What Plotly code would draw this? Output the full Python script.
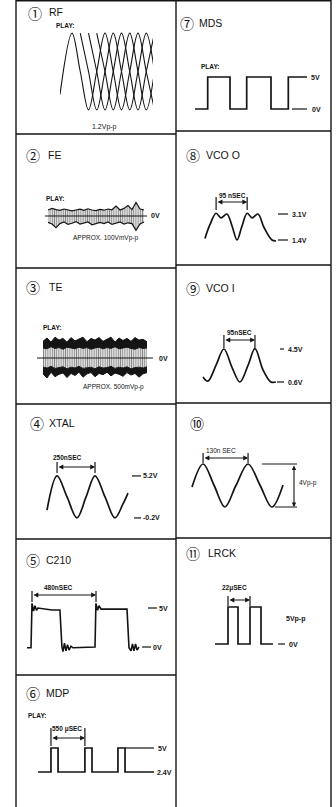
import plotly.graph_objects as go

W, H = 336, 807
INK = "#141414"
SANS = "Liberation Sans, Arial, sans-serif"
CIRC = "Noto Sans CJK JP, DejaVu Sans, sans-serif"

# ======================= DATA =======================
# (1) RF eye pattern, volts (1.2 Vp-p)
RF_CREST_T = [12, 20.25, 28.5, 36.75]      # first crest of each overlaid trace
RF_QUARTER_V = [0.6, 0.0, -0.6, 0.0]       # crest, zero, trough, zero
RF_QUARTER_T = 8.25
RF_LEAD_T = [0, 12]
RF_LEAD_V = [-0.36, 0.6]
RF_END_T = 100

# (2) FE, mV (approx 100 mVp-p) - envelope samples
FE_T = list(range(25))
FE_TOP = [30, 38, 32, 28, 35, 30, 26, 30, 34, 28, 36, 30, 27, 33, 29, 35, 31, 50, 30, 38, 52, 32, 68, 35, 30]
FE_BOT = [-32, -40, -58, -38, -30, -42, -36, -28, -40, -34, -30, -44, -36, -32, -38, -30, -42, -35, -30, -40, -34, -38, -72, -40, -30]
FE_ZERO_T = [-0.75, 24.75]

# (3) TE, mV (approx 500 mVp-p) - envelope samples
TE_T = list(range(27))
TE_TOP_OUT = [200, 240, 190, 250, 215, 235, 190, 245, 205, 225, 250, 195, 235, 215, 245, 200, 230, 250, 190, 240, 210, 235, 200, 245, 215, 225, 195]
TE_TOP_IN = [120, 110, 135, 115, 125, 105, 130, 120, 110, 130, 115, 125, 105, 120, 130, 110, 125, 115, 135, 110, 120, 130, 115, 105, 125, 115, 120]
TE_BOT_IN = [-110, -120, -100, -125, -115, -105, -130, -110, -120, -100, -125, -115, -110, -130, -105, -120, -115, -100, -125, -110, -120, -105, -130, -115, -110, -120, -105]
TE_BOT_OUT = [-190, -240, -170, -225, -195, -180, -235, -185, -210, -170, -230, -190, -175, -225, -185, -200, -170, -215, -180, -195, -220, -175, -205, -185, -230, -190, -175]
TE_ZERO_T = [-1.5, 27.5]

# (4) XTAL, ns / V
XTAL_T = [0, 66, 132, 197, 257, 316, 382, 447, 500, 533]
XTAL_V = [0.8, 5.2, 2.5, -0.2, 2.5, 5.2, 2.5, -0.2, 1.6, 3.0]
XTAL_PERIOD = (66, 316)           # 250 nSEC

# (5) C210, ns / V
C210_T = [0, 30, 37.5, 49, 60, 71, 82, 135, 187, 247, 262, 270, 281, 292, 304, 315, 330, 345,
          510, 517, 529, 540, 555, 622, 750, 765, 780, 791, 802, 814, 825, 840]
C210_V = [-0.1, -0.1, 5.6, 4.6, 5.3, 4.7, 5.0, 4.9, 4.75, 4.75, 0.0, -0.6, 0.5, -0.5, 0.3, -0.4, 0.1, -0.1,
          0.0, 5.6, 4.7, 5.3, 4.85, 4.85, 4.85, -0.1, -0.5, 0.4, -0.5, 0.4, -0.4, 0.0]
C210_PERIOD = (37.5, 517.5)       # 480 nSEC

# (6) MDP, usec / V
MDP_T = [0, 210, 210, 325, 325, 760, 760, 875, 875, 1295, 1295, 1410, 1410, 1880]
MDP_V = [2.4, 2.4, 5, 5, 2.4, 2.4, 5, 5, 2.4, 2.4, 5, 5, 2.4, 2.4]
MDP_PERIOD = (210, 760)           # 550 usec
MDP_REF5_T = [1410, 1880]

# (7) MDS, arbitrary time / V
MDS_T = [0, 12.7, 12.7, 35, 35, 51.7, 51.7, 76, 76, 93.3, 93.3, 112]
MDS_V = [0, 0, 5, 5, 0, 0, 5, 5, 0, 0, 5, 5]
MDS_REF0_T = [97, 112]

# (8) VCO O, ns / V
VCOO_T = [0, 15, 34, 49, 67, 83, 98, 113, 129, 144, 162, 181, 205, 217]
VCOO_V = [1.5, 2.4, 3.15, 2.85, 3.1, 2.3, 1.4, 2.3, 3.15, 2.85, 3.1, 2.2, 1.4, 1.35]
VCOO_PERIOD = (34, 129)           # 95 nSEC

# (9) VCO I, ns / V
VCOI_T = [0, 15, 40, 64, 89, 113, 138, 159, 184, 208, 223]
VCOI_V = [1.2, 0.7, 2.6, 4.5, 2.3, 0.6, 2.6, 4.55, 2.0, 0.6, 0.6]
VCOI_PERIOD = (64, 159)           # 95 nSEC

# (10) sine, ns / V (4 Vp-p)
S10_T = [0, 32, 64, 95, 127, 162, 197, 231, 263]
S10_V = [-0.15, 2, 0, -2, 0, 2, 0, -2, 0.05]
S10_PERIOD = (32, 162)            # 130 nSEC

# (11) LRCK, usec / V
LRCK_T = [0, 13, 13, 23, 23, 35, 35, 46, 46, 58]
LRCK_V = [0, 0, 5, 5, 0, 0, 5, 5, 0, 0]
LRCK_PERIOD = (13, 35)            # 22 usec

# ======================= FIGURE =======================
fig = go.Figure()
_n = [0]


class Cell:
    """One panel: an invisible axis pair placed over a pixel box."""

    def __init__(self, box, xo, sx, yo, sy):
        _n[0] += 1
        n = _n[0]
        self.sfx = "" if n == 1 else str(n)
        self.xref = "x" + self.sfx
        self.yref = "y" + self.sfx
        x0, y0, x1, y1 = box
        self.xo, self.sx, self.yo, self.sy = xo, sx, yo, sy
        fig.update_layout(**{
            "xaxis" + self.sfx: dict(domain=[x0 / W, x1 / W], range=[(x0 - xo) / sx, (x1 - xo) / sx],
                                     visible=False, fixedrange=True, anchor=self.yref),
            "yaxis" + self.sfx: dict(domain=[1 - y1 / H, 1 - y0 / H], range=[(yo - y1) / sy, (yo - y0) / sy],
                                     visible=False, fixedrange=True, anchor=self.xref),
        })

    def X(self, px):
        return (px - self.xo) / self.sx

    def Y(self, py):
        return (self.yo - py) / self.sy

    def line(self, t, v, width=1.6, shape="linear", fill=None, fillcolor=None, pattern=None):
        kw = dict(x=t, y=v, xaxis=self.xref, yaxis=self.yref, mode="lines",
                  line=dict(color=INK, width=width, shape=shape, smoothing=1.0),
                  hoverinfo="skip", showlegend=False)
        if fill:
            kw["fill"] = fill
            kw["fillcolor"] = fillcolor
        if pattern:
            kw["fillpattern"] = pattern
        fig.add_trace(go.Scatter(**kw))

    def label(self, text, px, v, size=7.5, anchor="left"):
        fig.add_annotation(text=text, x=self.X(px), y=v, xref=self.xref, yref=self.yref,
                           xanchor=anchor, yanchor="middle", showarrow=False,
                           font=dict(family=SANS, size=size, color=INK))

    def dash(self, px0, px1, v, width=1.2):
        fig.add_shape(type="line", xref=self.xref, yref=self.yref, x0=self.X(px0), x1=self.X(px1),
                      y0=v, y1=v, line=dict(color=INK, width=width))

    def bracket(self, t1, t2, py, ptop, pbot):
        yb = self.Y(py)
        fig.add_annotation(x=t2, y=yb, ax=t1, ay=yb, xref=self.xref, yref=self.yref,
                           axref=self.xref, ayref=self.yref, text="", showarrow=True,
                           arrowhead=2, arrowside="end+start", arrowsize=0.8, arrowwidth=1.2,
                           arrowcolor=INK, standoff=0, startstandoff=0)
        for t in (t1, t2):
            fig.add_shape(type="line", xref=self.xref, yref=self.yref, x0=t, x1=t,
                          y0=self.Y(ptop), y1=self.Y(pbot), line=dict(color=INK, width=1.2))


def txt(text, px, py, size=7.5, anchor="left", family=SANS):
    fig.add_annotation(text=text, x=px / W, y=1 - py / H, xref="paper", yref="paper",
                       xanchor=anchor, yanchor="middle", showarrow=False,
                       font=dict(family=family, size=size, color=INK))


def title(num, name, cx, cy, nx):
    txt(num, cx, cy, size=14, anchor="center", family=CIRC)
    if name:
        txt(name, nx, cy - 0.5, size=10.5)


HATCH = dict(shape="|", size=2.2, solidity=0.55, fgcolor=INK, bgcolor="white")

# ---------- (1) RF ----------
rf = Cell((60, 28, 153, 115), xo=60, sx=1.0, yo=71.5, sy=64.0)
for k, c in enumerate(RF_CREST_T):
    ts, vs = [], []
    if k == 0:
        ts += RF_LEAD_T[:-1]
        vs += RF_LEAD_V[:-1]
    i = 0
    while c + i * RF_QUARTER_T <= RF_END_T:
        ts.append(c + i * RF_QUARTER_T)
        vs.append(RF_QUARTER_V[i % 4])
        i += 1
    rf.line(ts, vs, width=1.1, shape="spline")
title("①", "RF", 35, 13, 47)
txt("<b>PLAY:</b>", 54, 25, size=6.5)
txt("1.2Vp-p", 104, 127, size=7, anchor="center")

# ---------- (7) MDS ----------
mds = Cell((176, 0, 331, 131), xo=195, sx=1.0, yo=109, sy=6.4)
mds.line(MDS_T, MDS_V, width=1.7)
mds.dash(MDS_REF0_T[0] + 195, MDS_REF0_T[1] + 195, 0)
mds.label("<b>5V</b>", 309, 5, size=7)
mds.label("<b>0V</b>", 310, 0, size=7)
title("⑦", "MDS", 187, 23, 197)
txt("<b>PLAY:</b>", 199, 67, size=6.5)

# ---------- (2) FE ----------
fe = Cell((16, 134, 176, 268), xo=48, sx=4.0, yo=216, sy=0.2)
fe.line(FE_T, FE_BOT, width=1.2)
fe.line(FE_T, FE_TOP, width=1.2, fill="tonexty", fillcolor="white", pattern=HATCH)
fe.line(FE_ZERO_T, [0, 0], width=1.2)
fe.label("<b>0V</b>", 149, 0, size=7)
title("②", "FE", 33, 155, 46)
txt("<b>PLAY:</b>", 44, 198, size=6.5)
txt("APPROX. 100VmVp-p", 71, 238, size=6.5)

# ---------- (8) VCO O ----------
vo = Cell((176, 131, 331, 265), xo=205, sx=1 / 3.06, yo=240 + 1.4 * 15.29, sy=15.29)
vo.line(VCOO_T, VCOO_V, width=1.7, shape="spline")
vo.bracket(VCOO_PERIOD[0], VCOO_PERIOD[1], 202, 197, 210)
vo.dash(278, 288, 3.1)
vo.dash(278, 288, 1.4)
vo.label("<b>3.1V</b>", 290, 3.1, size=7)
vo.label("<b>1.4V</b>", 290, 1.4, size=7)
txt("<b>95 nSEC</b>", 232, 195, size=6.5, anchor="center")
title("⑧", "VCO O", 193, 155, 204)

# ---------- (3) TE ----------
te = Cell((16, 268, 176, 404), xo=43, sx=4.0, yo=358, sy=1 / 12)
te.line(TE_T, TE_BOT_OUT, width=1.0)
te.line(TE_T, TE_BOT_IN, width=1.0, fill="tonexty", fillcolor=INK)
te.line(TE_T, TE_TOP_IN, width=1.0, fill="tonexty", fillcolor="white", pattern=HATCH)
te.line(TE_T, TE_TOP_OUT, width=1.0, fill="tonexty", fillcolor=INK)
te.line(TE_ZERO_T, [0, 0], width=1.2)
te.label("<b>0V</b>", 157, 0, size=7)
title("③", "TE", 33, 287, 47)
txt("<b>PLAY:</b>", 41, 327, size=6.5)
txt("APPROX. 500mVp-p", 81, 387, size=6.5)

# ---------- (9) VCO I ----------
vi = Cell((176, 265, 331, 403), xo=203, sx=1 / 3.06, yo=382 + 0.6 * 8.46, sy=8.46)
vi.line(VCOI_T, VCOI_V, width=1.7, shape="spline")
vi.bracket(VCOI_PERIOD[0], VCOI_PERIOD[1], 340, 335, 348)
vi.dash(280, 284, 4.5)
vi.dash(277, 284, 0.6)
vi.label("<b>4.5V</b>", 286, 4.5, size=7)
vi.label("<b>0.6V</b>", 286, 0.6, size=7)
txt("<b>95nSEC</b>", 239, 332, size=6.5, anchor="center")
title("⑨", "VCO I", 193, 288, 204)

# ---------- (4) XTAL ----------
xt = Cell((16, 404, 176, 539), xo=47, sx=1 / 6.58, yo=516.4, sy=7.78)
xt.line(XTAL_T, XTAL_V, width=1.7, shape="spline")
xt.bracket(XTAL_PERIOD[0], XTAL_PERIOD[1], 467, 462, 473)
xt.dash(132, 141, 5.2)
xt.dash(134, 141, -0.2)
xt.label("<b>5.2V</b>", 141, 5.2, size=7)
xt.label("<b>-0.2V</b>", 141, -0.2, size=7)
txt("<b>250nSEC</b>", 67, 457, size=6.5, anchor="center")
title("④", "XTAL", 37, 423, 47)

# ---------- (10) ----------
s10 = Cell((176, 403, 331, 538), xo=192, sx=1 / 2.89, yo=485.5, sy=10.75)
s10.line(S10_T, S10_V, width=1.7, shape="spline")
s10.bracket(S10_PERIOD[0], S10_PERIOD[1], 458, 453, 463)
s10.dash(262, 297, 2, width=1.0)
s10.dash(275, 297, -2, width=1.0)
fig.add_annotation(x=s10.X(294), y=-2, ax=s10.X(294), ay=2, xref=s10.xref, yref=s10.yref,
                   axref=s10.xref, ayref=s10.yref, text="", showarrow=True, arrowhead=2,
                   arrowside="end+start", arrowsize=0.8, arrowwidth=1.1, arrowcolor=INK,
                   standoff=0, startstandoff=0)
txt("4Vp-p", 297, 483, size=6.5)
txt("130n SEC", 221, 450, size=6.5, anchor="center")
title("⑩", "", 197, 423, 0)

# ---------- (5) C210 ----------
c5 = Cell((16, 539, 176, 675), xo=27, sx=1 / 7.5, yo=647, sy=7.8)
c5.line(C210_T, C210_V, width=1.6)
c5.bracket(C210_PERIOD[0], C210_PERIOD[1], 595, 591, 602)
c5.dash(148, 157, 5)
c5.dash(142, 151, 0)
c5.label("<b>5V</b>", 157, 5, size=7)
c5.label("<b>0V</b>", 151, 0, size=7)
txt("<b>480nSEC</b>", 58, 587, size=6.5, anchor="center")
title("⑤", "C210", 33, 560, 44)

# ---------- (11) LRCK ----------
lr = Cell((176, 538, 331, 806), xo=215, sx=1.0, yo=644, sy=7.4)
lr.line(LRCK_T, LRCK_V, width=1.7)
lr.bracket(LRCK_PERIOD[0], LRCK_PERIOD[1], 600, 596, 606)
lr.dash(278, 285, 0)
lr.label("<b>0V</b>", 287, 0, size=7)
txt("<b>5Vp-p</b>", 284, 619, size=7)
txt("<b>22μSEC</b>", 234, 588, size=6.5, anchor="center")
title("⑪", "LRCK", 193, 553, 206)

# ---------- (6) MDP ----------
md = Cell((16, 675, 176, 806), xo=38, sx=1 / 16.2, yo=772 + 2.4 * 9.23, sy=9.23)
md.line(MDP_T, MDP_V, width=1.7)
md.line(MDP_REF5_T, [5, 5], width=1.2)
md.label("<b>5V</b>", 156, 5, size=7)
md.label("<b>2.4V</b>", 155, 2.4, size=7)
md.bracket(MDP_PERIOD[0], MDP_PERIOD[1], 738, 728, 746)
txt("<b>550 μSEC</b>", 67, 729, size=6.5, anchor="center")
title("⑥", "MDP", 33, 693, 44)
txt("<b>PLAY:</b>", 26, 715, size=6.5)

# ---------- panel frame ----------
VLINES = [16, 176, 331]
LEFT_ROWS = [134, 268, 404, 539, 675]
RIGHT_ROWS = [131, 265, 403, 538]
frame = dict(color=INK, width=1.4)
for vx in VLINES:
    fig.add_shape(type="line", xref="paper", yref="paper", x0=vx / W, x1=vx / W, y0=0, y1=1, line=frame)
fig.add_shape(type="line", xref="paper", yref="paper", x0=16 / W, x1=331 / W,
              y0=1 - 0.8 / H, y1=1 - 0.8 / H, line=frame)
for ry in LEFT_ROWS:
    fig.add_shape(type="line", xref="paper", yref="paper", x0=16 / W, x1=176 / W,
                  y0=1 - ry / H, y1=1 - ry / H, line=frame)
for ry in RIGHT_ROWS:
    fig.add_shape(type="line", xref="paper", yref="paper", x0=176 / W, x1=331 / W,
                  y0=1 - ry / H, y1=1 - ry / H, line=frame)

fig.update_layout(width=W, height=H, margin=dict(l=0, r=0, t=0, b=0),
                  paper_bgcolor="white", plot_bgcolor="rgba(0,0,0,0)", showlegend=False)
fig.write_html("out.html", config={"displayModeBar": False, "staticPlot": True},
               post_script="document.body.style.margin='0';document.body.style.overflow='hidden';")
